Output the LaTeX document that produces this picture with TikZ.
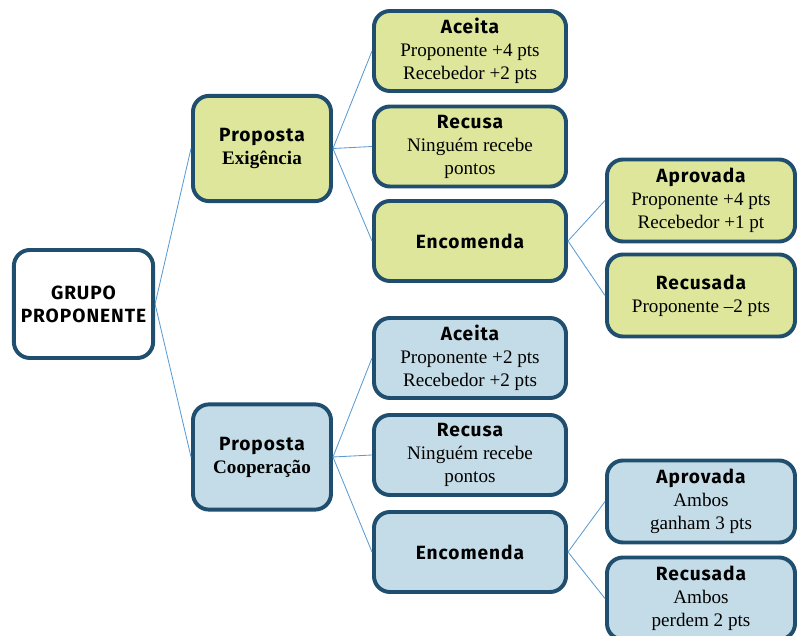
\documentclass[tikz,border=0pt]{standalone}
\usepackage{fontspec}
\setmainfont{Liberation Serif}
\newfontfamily\headfont[LetterSpace=5]{Fira Sans}
\definecolor{borda}{HTML}{1F4E6E}
\definecolor{verde}{HTML}{DDE69B}
\definecolor{azul}{HTML}{C4DCE7}
\definecolor{linha}{HTML}{5B9BD5}
\newcommand{\tit}[1]{{\headfont\bfseries #1}}

\begin{document}
\begin{tikzpicture}[x=0.025cm,y=-0.025cm,
      caixa/.style={draw=borda, line width=2.8pt, rounded corners=0.4cm, align=center, inner sep=1pt, font=\fontsize{13.6}{16.3}\selectfont},
      raiz/.style={caixa, fill=white, minimum width=3.48cm, minimum height=2.7cm},
      nivelum/.style={caixa, minimum width=3.45cm, minimum height=2.63cm},
      niveldois/.style={caixa, minimum width=4.8cm, minimum height=2cm},
      niveltres/.style={caixa, minimum width=4.7cm, minimum height=2.05cm},
      liga/.style={draw=linha, line width=0.6pt}]

      	\useasboundingbox (0,0) rectangle (798,636);

      	% raiz
      	\node[raiz] (grupo) at (83.5,304) {\tit{GRUPO}\\\tit{PROPONENTE}};

      	% exigencia
      	\node[nivelum,fill=verde] (exig) at (262,148.5) {\tit{Proposta}\\\textbf{Exigência}};
      	\node[niveldois,fill=verde] (exAceita) at (470,51) {\tit{Aceita}\\Proponente +4 pts\\Recebedor +2 pts};
      	\node[niveldois,fill=verde] (exRecusa) at (470,146.5) {\tit{Recusa}\\Ninguém recebe\\pontos};
      	\node[niveldois,fill=verde] (exEnc) at (470,241) {\tit{Encomenda}};
      	\node[niveltres,fill=verde] (exAprov) at (701,200.5) {\tit{Aprovada}\\Proponente +4 pts\\Recebedor +1 pt};
      	\node[niveltres,fill=verde] (exRecus) at (701,295.5) {\tit{Recusada}\\Proponente –2 pts};

      	% cooperacao
      	\node[nivelum,fill=azul] (coop) at (262,457) {\tit{Proposta}\\\textbf{Cooperação}};
      	\node[niveldois,fill=azul] (coAceita) at (470,358) {\tit{Aceita}\\Proponente +2 pts\\Recebedor +2 pts};
      	\node[niveldois,fill=azul] (coRecusa) at (470,455) {\tit{Recusa}\\Ninguém recebe\\pontos};
      	\node[niveldois,fill=azul] (coEnc) at (470,552) {\tit{Encomenda}};
      	\node[niveltres,fill=azul] (coAprov) at (701,501.5) {\tit{Aprovada}\\Ambos\\ganham 3 pts};
      	\node[niveltres,fill=azul] (coRecus) at (701,598.5) {\tit{Recusada}\\Ambos\\perdem 2 pts};

      	% ligacoes
      	\draw[liga] (grupo.east) -- (exig.west);
      	\draw[liga] (grupo.east) -- (coop.west);
      	\draw[liga] (exig.east) -- (exAceita.west);
      	\draw[liga] (exig.east) -- (exRecusa.west);
      	\draw[liga] (exig.east) -- (exEnc.west);
      	\draw[liga] (exEnc.east) -- (exAprov.west);
      	\draw[liga] (exEnc.east) -- (exRecus.west);
      	\draw[liga] (coop.east) -- (coAceita.west);
      	\draw[liga] (coop.east) -- (coRecusa.west);
      	\draw[liga] (coop.east) -- (coEnc.west);
      	\draw[liga] (coEnc.east) -- (coAprov.west);
      	\draw[liga] (coEnc.east) -- (coRecus.west);
\end{tikzpicture}
\end{document}
